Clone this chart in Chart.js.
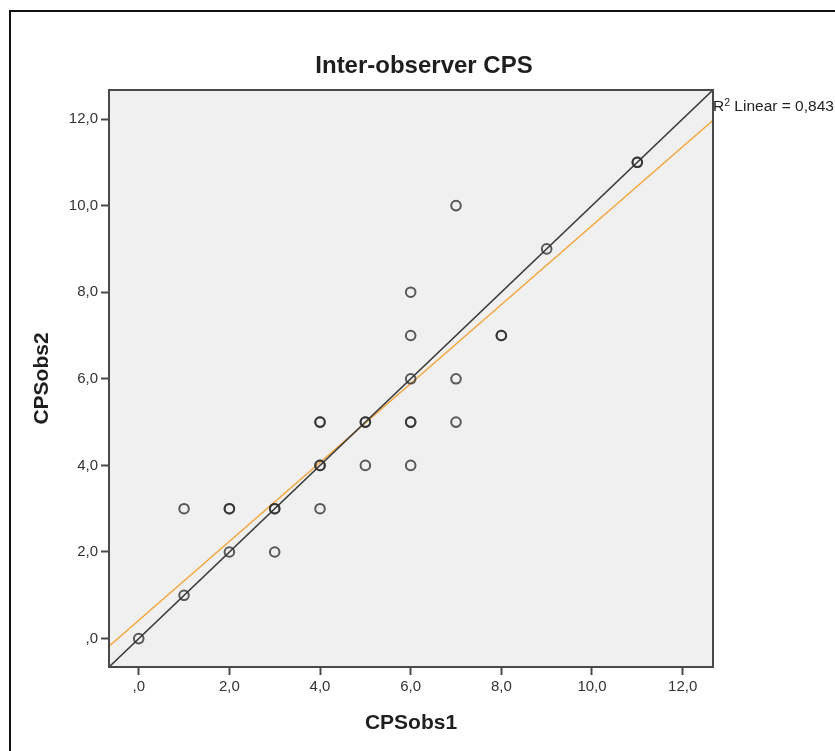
<!DOCTYPE html>
<html>
<head>
<meta charset="utf-8">
<script src="https://cdn.jsdelivr.net/npm/chart.js@4.4.1/dist/chart.umd.min.js"></script>
<style>
  html, body { margin: 0; padding: 0; background: #fff; overflow: hidden; }
  #wrap { position: relative; width: 835px; height: 751px; }
  #frame { position: absolute; left: 9px; top: 10px; width: 900px; height: 800px;
           border-left: 2px solid #111; border-top: 2px solid #111; pointer-events: none; }
  canvas { position: absolute; left: 0; top: 0; }
</style>
</head>
<body>
<div id="wrap">
  <canvas id="c" width="835" height="751"></canvas>
  <div id="frame"></div>
</div>
<script>
// Observer 1 vs observer 2 CPS scores (repeated pairs are listed once per case)
const cpsObs1 = [0, 1, 1, 2, 2, 2, 3, 3, 3, 4, 4, 4, 4, 4, 5, 5, 5, 6, 6, 6, 6, 6, 6, 7, 7, 7, 8, 8, 9, 11, 11];
const cpsObs2 = [0, 1, 3, 2, 3, 3, 2, 3, 3, 3, 4, 4, 5, 5, 4, 5, 5, 4, 5, 5, 6, 7, 8, 5, 6, 10, 7, 7, 9, 11, 11];

// Axis ticks
const tickValues = [0, 2, 4, 6, 8, 10, 12];
const tickLabels = [',0', '2,0', '4,0', '6,0', '8,0', '10,0', '12,0'];
const axisMin = -0.656;
const axisMax = 12.67;

// Reference line (y = x) and linear fit line
const identityX = [axisMin, axisMax];
const identityY = [axisMin, axisMax];
const fitX = [axisMin, axisMax];
const fitY = [-0.177, 11.97];
const rSquared = '0,843';

const chartTitle = 'Inter-observer CPS';
const xTitle = 'CPSobs1';
const yTitle = 'CPSobs2';

const FONT = '"Liberation Sans", Arial, sans-serif';

const plotDecor = {
  id: 'plotDecor',
  beforeDraw(chart) {
    const { ctx, chartArea: a } = chart;
    ctx.save();
    ctx.fillStyle = '#f0f0f0';
    ctx.fillRect(a.left, a.top, a.right - a.left, a.bottom - a.top);
    ctx.restore();
  },
  afterDatasetsDraw(chart) {
    const { ctx, chartArea: a } = chart;
    ctx.save();
    ctx.strokeStyle = '#4a4a4a';
    ctx.lineWidth = 2;
    ctx.strokeRect(a.left, a.top, a.right - a.left, a.bottom - a.top);
    ctx.restore();
  },
  afterDraw(chart) {
    const { ctx, chartArea: a } = chart;
    ctx.save();
    // chart title
    ctx.fillStyle = '#1e1e1e';
    ctx.font = 'bold 24px ' + FONT;
    ctx.textAlign = 'center';
    ctx.textBaseline = 'alphabetic';
    ctx.fillText(chartTitle, 424, 73);
    // R² annotation at the end of the fit line
    ctx.textAlign = 'left';
    ctx.fillStyle = '#222';
    let x = a.right;
    const base = 111;
    ctx.font = '15.5px ' + FONT;
    ctx.fillText('R', x, base);
    x += ctx.measureText('R').width;
    ctx.font = '10.5px ' + FONT;
    ctx.fillText('2', x, base - 5);
    x += ctx.measureText('2').width;
    ctx.font = '15.5px ' + FONT;
    ctx.fillText(' Linear = ' + rSquared, x, base);
    ctx.restore();
  }
};

const toPoints = (xs, ys) => xs.map((v, i) => ({ x: v, y: ys[i] }));

const axisCommon = (titleText, titlePadding) => ({
  type: 'linear',
  min: axisMin,
  max: axisMax,
  border: { display: false },
  grid: {
    drawOnChartArea: false,
    drawTicks: true,
    tickLength: 8,
    tickColor: '#4a4a4a',
    tickWidth: 2
  },
  afterBuildTicks(scale) {
    scale.ticks = tickValues.map(v => ({ value: v }));
  },
  ticks: {
    autoSkip: false,
    color: '#333',
    font: { family: FONT, size: 15 },
    padding: 3,
    callback: (v) => tickLabels[tickValues.indexOf(v)]
  },
  title: {
    display: true,
    text: titleText,
    color: '#1e1e1e',
    font: { family: FONT, size: 21, weight: 'bold' },
    padding: titlePadding
  }
});

const xAxis = axisCommon(xTitle, { top: 0, bottom: 0 });
xAxis.afterFit = (scale) => { scale.height = 69; };
const yAxis = axisCommon(yTitle, { top: 20, bottom: 0 });
yAxis.afterFit = (scale) => { scale.width = 99; };

new Chart(document.getElementById('c'), {
  type: 'scatter',
  data: {
    datasets: [
      {
        label: 'Fit',
        data: toPoints(fitX, fitY),
        showLine: true,
        borderColor: '#f3a844',
        borderWidth: 1.6,
        pointRadius: 0,
        order: 2
      },
      {
        label: 'Reference',
        data: toPoints(identityX, identityY),
        showLine: true,
        borderColor: '#3a3a3a',
        borderWidth: 1.6,
        pointRadius: 0,
        order: 1
      },
      {
        label: 'CPS',
        data: toPoints(cpsObs1, cpsObs2),
        showLine: false,
        pointStyle: 'circle',
        pointRadius: 4.8,
        pointBorderWidth: 2,
        borderColor: 'rgba(45,45,45,0.78)',
        backgroundColor: 'rgba(0,0,0,0)',
        order: 0
      }
    ]
  },
  options: {
    responsive: false,
    devicePixelRatio: 1,
    animation: false,
    layout: { padding: { left: 10, right: 122, top: 90, bottom: 15 } },
    plugins: {
      legend: { display: false },
      tooltip: { enabled: false },
      title: { display: false }
    },
    scales: { x: xAxis, y: yAxis }
  },
  plugins: [plotDecor]
});
</script>
</body>
</html>
